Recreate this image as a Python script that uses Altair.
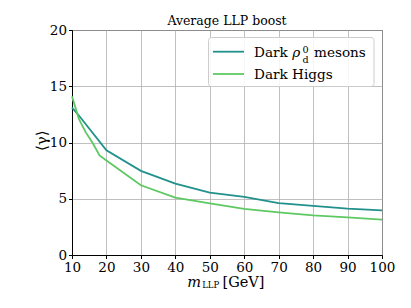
import altair as alt
import pandas as pd

rho_mass = [10, 12, 20, 30, 40, 50, 60, 70, 80, 90, 100]
rho_gamma = [13.1, 12.4, 9.3, 7.48, 6.35, 5.55, 5.16, 4.62, 4.36, 4.12, 3.97]
higgs_mass = [10, 12, 14, 16, 18, 20, 30, 40, 50, 60, 70, 80, 90, 100]
higgs_gamma = [14.1, 12.1, 10.9, 9.95, 8.85, 8.4, 6.2, 5.1, 4.58, 4.1, 3.78, 3.52, 3.35, 3.15]
series = ["Dark rho", "Dark Higgs"]
colors = ["#21918c", "#5ec962"]

df = pd.concat([
    pd.DataFrame({"m": rho_mass, "g": rho_gamma, "s": series[0], "o": range(len(rho_mass))}),
    pd.DataFrame({"m": higgs_mass, "g": higgs_gamma, "s": series[1], "o": range(len(higgs_mass))}),
])

FONT = "DejaVu Serif, Liberation Serif, serif"
W, H = 310, 225

x = alt.X("m:Q", scale=alt.Scale(domain=[10, 100], nice=False, zero=False),
          axis=alt.Axis(values=list(range(10, 101, 10)), title=None, labelFlush=False))
y = alt.Y("g:Q", scale=alt.Scale(domain=[0, 20], nice=False),
          axis=alt.Axis(values=[0, 5, 10, 15, 20], title=None, labelFlush=False))

lines = alt.Chart(df).mark_line(strokeWidth=1.8).encode(
    x=x, y=y,
    color=alt.Color("s:N", scale=alt.Scale(domain=series, range=colors), legend=None),
    order="o:Q",
)

def txt(t, px, py, size=13.6, style="normal", baseline="alphabetic", align="left", angle=0):
    return alt.Chart(pd.DataFrame({"t": [t]})).mark_text(
        font=FONT, fontSize=size, fontStyle=style, baseline=baseline, align=align,
        color="black", angle=angle,
    ).encode(text="t:N", x=alt.value(px), y=alt.value(py))

title = txt("Average LLP boost", W / 2, -5, size=12.5, align="center")

# legend box
legend_box = alt.Chart(pd.DataFrame({"a": [0]})).mark_rect(
    fill="white", fillOpacity=0.85, stroke="#cccccc", strokeWidth=1, cornerRadius=3,
).encode(x=alt.value(136.5), x2=alt.value(302), y=alt.value(7.5), y2=alt.value(56.5))

leg_line1 = alt.Chart(pd.DataFrame({"a": [0]})).mark_rule(color=colors[0], strokeWidth=1.8).encode(
    x=alt.value(141), x2=alt.value(172), y=alt.value(21.7))
leg_line2 = alt.Chart(pd.DataFrame({"a": [0]})).mark_rule(color=colors[1], strokeWidth=1.8).encode(
    x=alt.value(141), x2=alt.value(172), y=alt.value(44))

leg_texts = [
    txt("Dark", 182, 26.7),
    txt("ρ", 220.3, 26.7, style="italic"),
    txt("0", 230.5, 23, size=9.6),
    txt("d", 230.5, 33, size=9.6),
    txt("mesons", 242, 26.7),
    txt("Dark Higgs", 182, 49.3),
]

xtitle = [
    txt("m", 115.3, 256.8, size=14.5, style="italic"),
    txt("LLP", 130.2, 258.2, size=8.5),
    txt("[GeV]", 150.5, 256.8, size=14.5),
]

ytitle = txt("⟨γ⟩", -30.3, 110.7, size=15, baseline="middle", align="center", angle=270)

chart = alt.layer(
    lines, title, legend_box, leg_line1, leg_line2, *leg_texts, *xtitle, ytitle
).properties(
    width=W, height=H,
    padding={"left": 64, "top": 22, "right": 20, "bottom": 45},
    autosize=alt.AutoSizeParams(type="none"),
).configure_view(
    stroke="black", strokeWidth=1,
).configure_axis(
    labelFont=FONT, labelFontSize=13.5, labelColor="black",
    domainColor="black", domainWidth=1,
    tickColor="black", tickSize=3.5, tickWidth=1,
    gridColor="#b0b0b0", gridWidth=0.8,
    labelPadding=2,
)

chart.save("out.html", embed_options={"renderer": "svg", "actions": False})
